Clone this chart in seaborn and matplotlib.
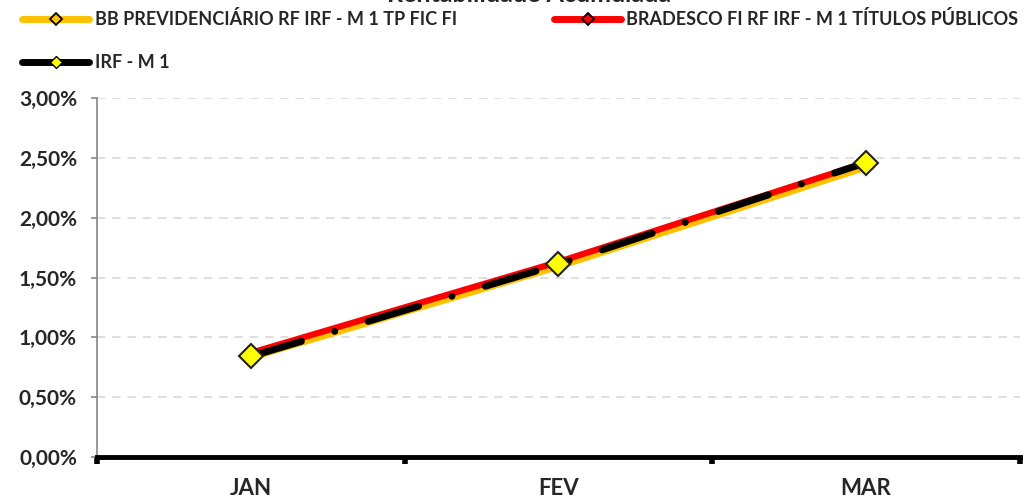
import seaborn as sns
import matplotlib.pyplot as plt
from matplotlib.lines import Line2D
from matplotlib.ticker import FuncFormatter, FixedLocator

meses = ["JAN", "FEV", "MAR"]
bb_prev = [0.83, 1.59, 2.42]
bradesco = [0.87, 1.63, 2.46]
irf_m1 = [0.84, 1.61, 2.46]

nome_bb = "BB PREVIDENCIÁRIO RF IRF - M 1 TP FIC FI"
nome_bradesco = "BRADESCO FI RF IRF - M 1 TÍTULOS PÚBLICOS"
nome_irf = "IRF - M 1"
titulo = "Rentabilidade Acumulada"

sns.set_style("white")
plt.rcParams['font.family'] = ['Lato', 'DejaVu Sans']
plt.rcParams['font.weight'] = 'bold'
plt.rcParams['lines.scale_dashes'] = False

fig = plt.figure(figsize=(10.28, 5.0), dpi=100)
ax = fig.add_axes([0.0944, 0.086, 0.8976, 0.718])

sns.lineplot(x=meses, y=bb_prev, ax=ax, color="#FFC000", linewidth=4.5, sort=False,
             marker="D", markersize=6, markerfacecolor="#FFC000", markeredgecolor="black",
             solid_capstyle="round")
sns.lineplot(x=meses, y=bradesco, ax=ax, color="#FF0000", linewidth=4.5, sort=False,
             marker="D", markersize=6, markerfacecolor="#FF0000", markeredgecolor="black",
             solid_capstyle="round")
linha = sns.lineplot(x=meses, y=irf_m1, ax=ax, color="black", linewidth=5, sort=False)
linha.lines[-1].set_dashes((38, 25, 0.1, 25))
linha.lines[-1].set_dash_capstyle("round")
ax.plot(range(len(meses)), irf_m1, linestyle="none", marker="D", markersize=12,
        markerfacecolor="#FFFF00", markeredgecolor="#222222", markeredgewidth=1.5, zorder=5)

ax.set_xlim(-0.5, 2.5)
ax.set_ylim(0, 3.0)
ax.yaxis.set_major_locator(FixedLocator([0, 0.5, 1.0, 1.5, 2.0, 2.5, 3.0]))
ax.yaxis.set_major_formatter(FuncFormatter(lambda v, p: f"{v:.2f}%".replace(".", ",")))
ax.xaxis.set_major_locator(FixedLocator([-0.5, 0.5, 1.5, 2.5]))
ax.xaxis.set_minor_locator(FixedLocator([0, 1, 2]))
ax.set_xticklabels(["", "", "", ""])
ax.set_xticklabels(meses, minor=True)
ax.tick_params(axis="x", which="major", direction="out", length=5, width=4, color="black", bottom=True)
ax.tick_params(axis="x", which="minor", length=0, pad=15, labelsize=16)
ax.tick_params(axis="y", direction="out", length=4.5, width=1.2, color="#868686", left=True,
               labelsize=15, pad=10)
for lab in ax.get_xticklabels(minor=True) + ax.get_yticklabels():
    lab.set_fontweight("bold")

ax.grid(axis="y", color="#D9D9D9", linestyle=(0, (6, 5)), linewidth=1.2)
ax.set_axisbelow(True)
for s in ["top", "right"]:
    ax.spines[s].set_visible(False)
ax.spines["left"].set_color("#868686")
ax.spines["left"].set_linewidth(1.2)
ax.spines["bottom"].set_color("black")
ax.spines["bottom"].set_linewidth(3.5)
ax.spines["bottom"].set_zorder(6)
ax.set_xlabel("")
ax.set_ylabel("")

fig.text(0.515, 1.012, titulo, ha="center", va="center", fontsize=18, fontweight="bold")

h_bb = Line2D([], [], color="#FFC000", linewidth=5, solid_capstyle="round", marker="D",
              markersize=6, markerfacecolor="#FFC000", markeredgecolor="black", markeredgewidth=1.3)
h_bradesco = Line2D([], [], color="#FF0000", linewidth=5, solid_capstyle="round", marker="D",
                    markersize=6, markerfacecolor="#FF0000", markeredgecolor="black", markeredgewidth=1.3)
h_irf = Line2D([], [], color="black", linewidth=5, solid_capstyle="round", marker="D",
               markersize=6, markerfacecolor="#FFFF00", markeredgecolor="black", markeredgewidth=1.0)
# legenda preenche por coluna: BB, IRF na primeira, BRADESCO na segunda
fig.legend([h_bb, h_irf, h_bradesco], [nome_bb, nome_irf, nome_bradesco], loc="upper left",
           bbox_to_anchor=(0.006, 1.012), ncol=2, frameon=False, handlelength=3.7,
           handletextpad=0.3, columnspacing=5.4, labelspacing=1.45,
           prop={"weight": "bold", "size": 13})

plt.savefig("out.png", dpi=100)
plt.close()
